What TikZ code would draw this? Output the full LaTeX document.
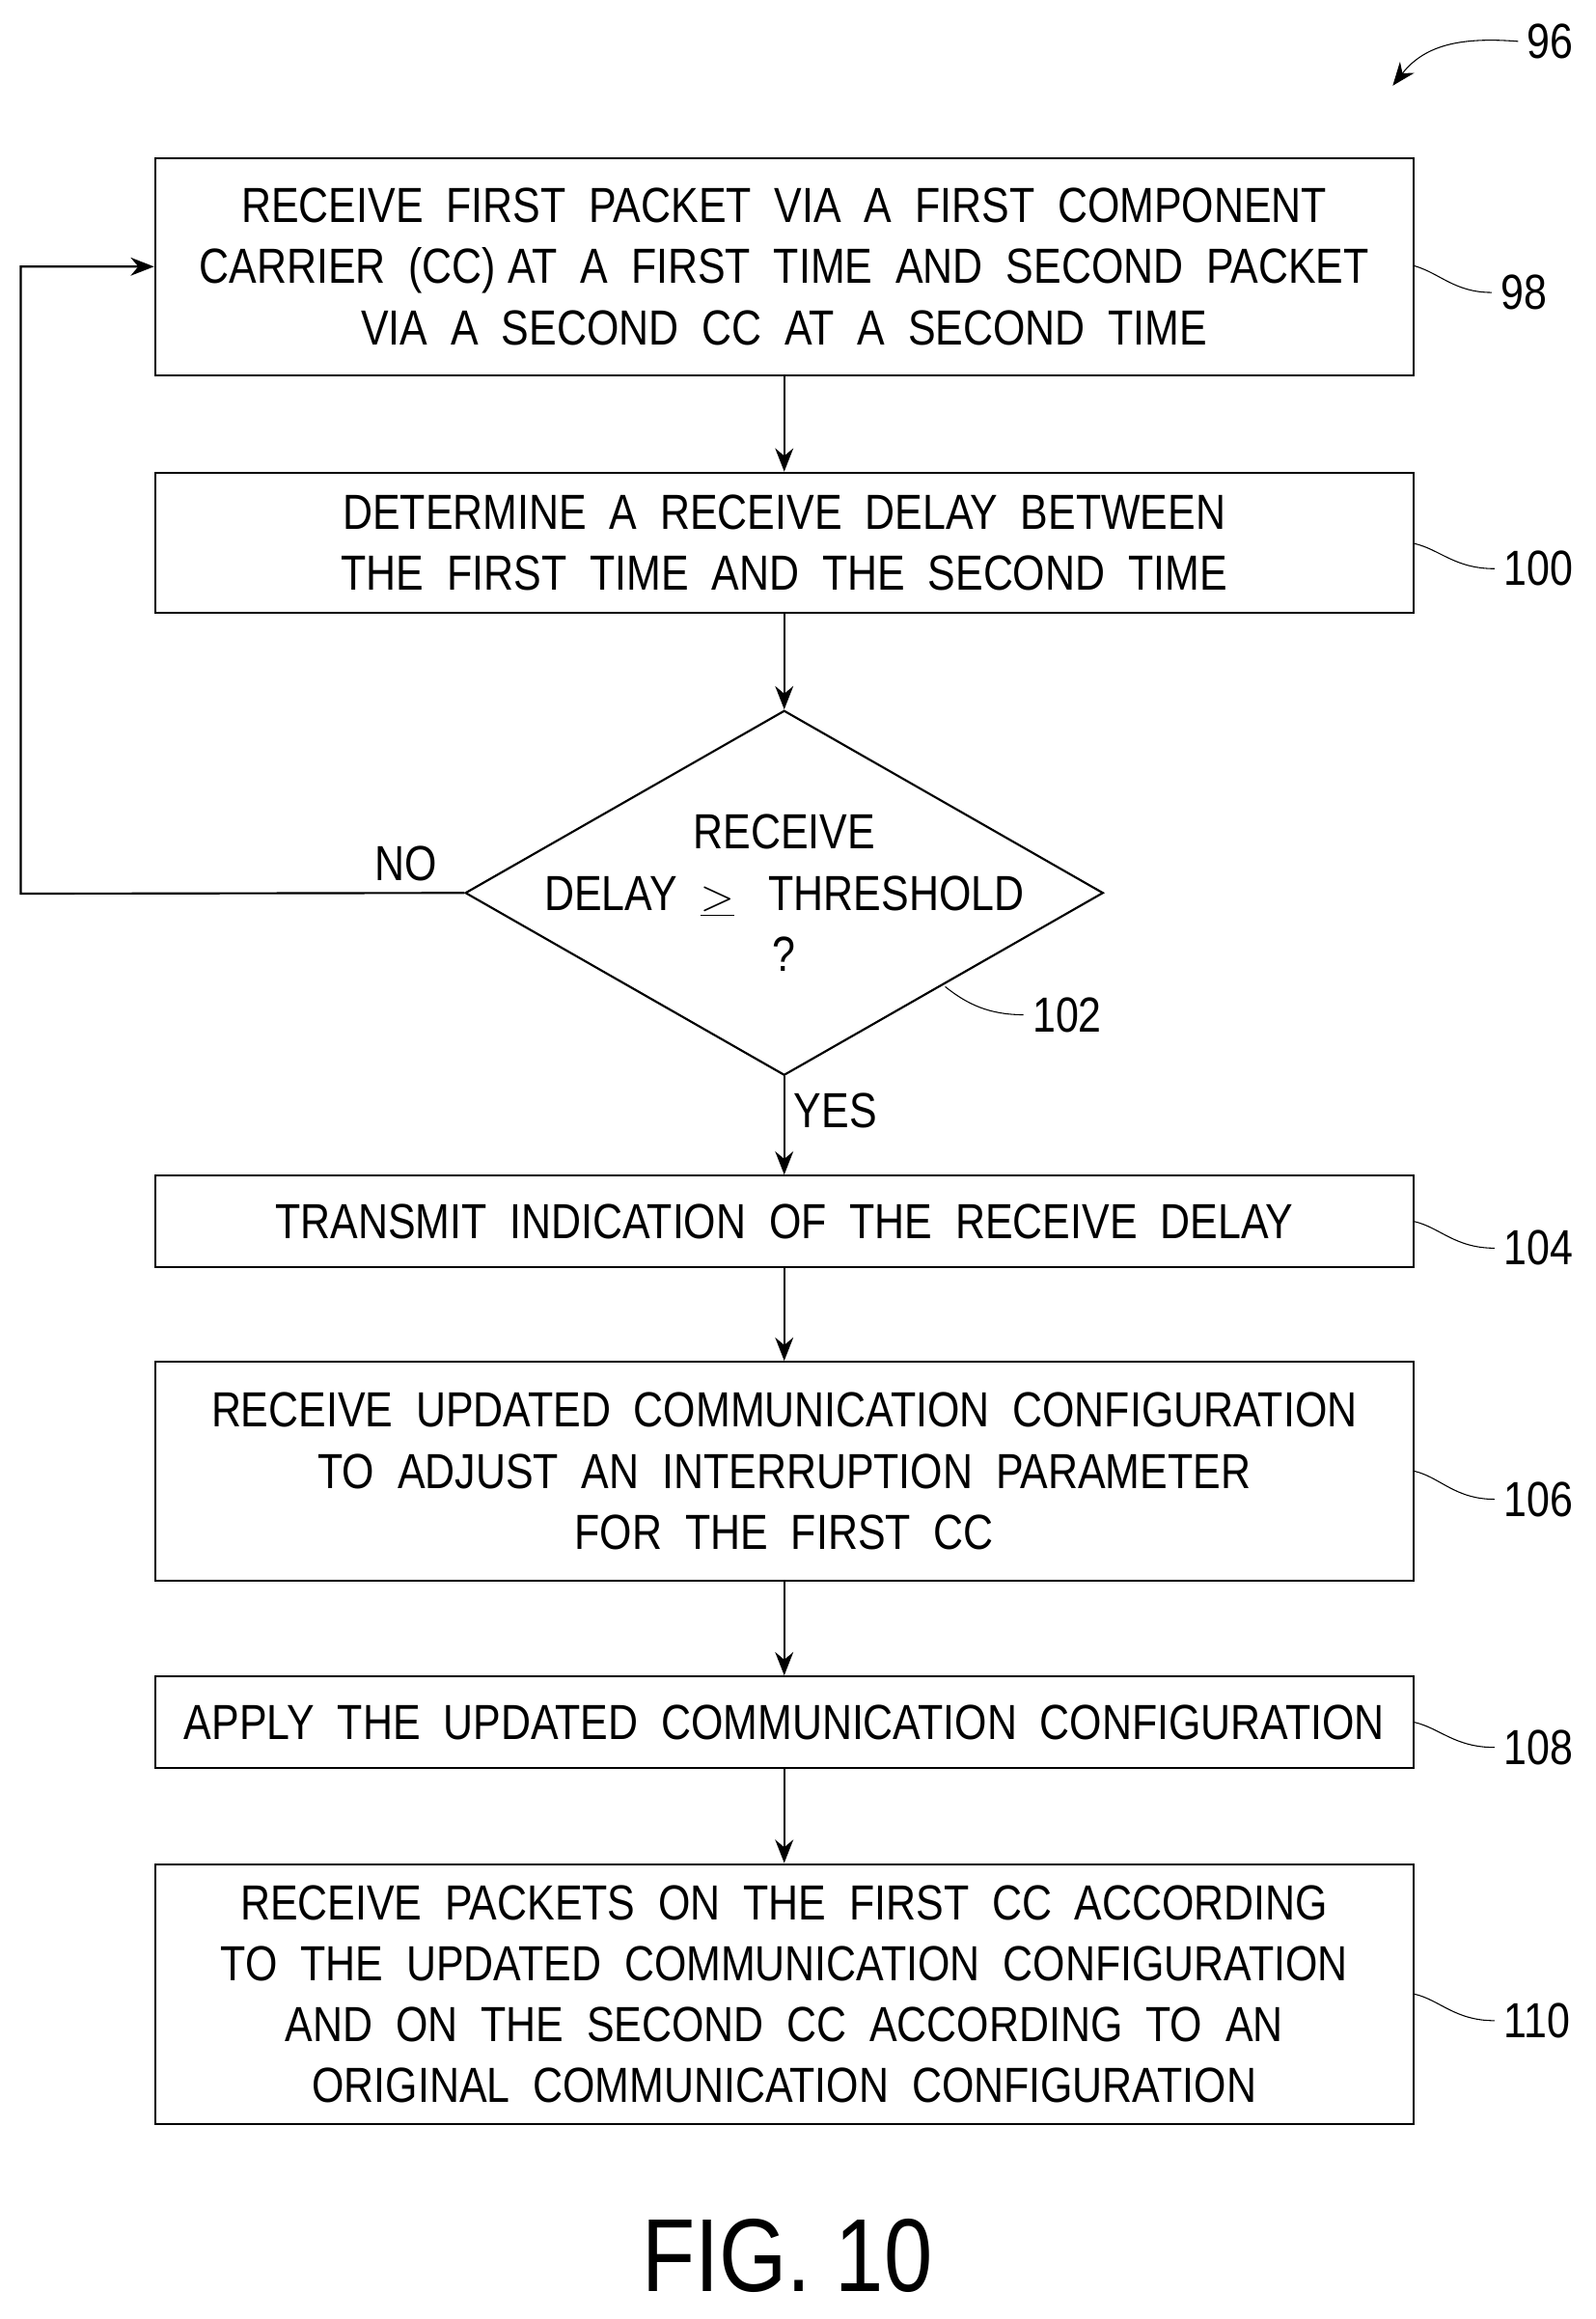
\documentclass[tikz,border=0pt]{standalone}
\usepackage{fontspec}
\setmainfont{Liberation Sans}[FakeStretch=0.84]
\usetikzlibrary{shapes.geometric,arrows.meta,positioning}
\begin{document}
\begin{tikzpicture}[x=0.02cm,y=-0.02cm,
    box/.style={draw, thick, minimum width=852*0.02cm, align=center, font=\fontsize{19}{23.5}\selectfont},
    flow/.style={-{Stealth[length=9pt,width=7pt]}, thick},
    lead/.style={thin},
    ref/.style={font=\fontsize{19}{22}\selectfont, anchor=west}]
        \useasboundingbox (0,0) rectangle (1080,1570);
        % process boxes
        \node[box, minimum height=147*0.02cm] (b98) at (531,180.5) {RECEIVE\ \ FIRST\ \ PACKET\ \ VIA\ \ A\ \ FIRST\ \ COMPONENT\\CARRIER\ \ (CC) AT\ \ A\ \ FIRST\ \ TIME\ \ AND\ \ SECOND\ \ PACKET\\VIA\ \ A\ \ SECOND\ \ CC\ \ AT\ \ A\ \ SECOND\ \ TIME};
        \node[box, minimum height=95*0.02cm] (b100) at (531,367.5) {DETERMINE\ \ A\ \ RECEIVE\ \ DELAY\ \ BETWEEN\\THE\ \ FIRST\ \ TIME\ \ AND\ \ THE\ \ SECOND\ \ TIME};
        \node[draw, thick, diamond, minimum width=432*0.02cm, minimum height=247*0.02cm, inner sep=0pt] (d102) at (531,604.5) {};
        \node[font=\fontsize{19}{23.5}\selectfont, align=center] (q102) at (d102.center) {RECEIVE\\DELAY\ \ $\underline{>}$\ \ \ THRESHOLD\\?};
        \node[box, minimum height=62*0.02cm] (b104) at (531,827) {TRANSMIT\ \ INDICATION\ \ OF\ \ THE\ \ RECEIVE\ \ DELAY};
        \node[box, minimum height=148*0.02cm] (b106) at (531,996) {RECEIVE\ \ UPDATED\ \ COMMUNICATION\ \ CONFIGURATION\\TO\ \ ADJUST\ \ AN\ \ INTERRUPTION\ \ PARAMETER\\FOR\ \ THE\ \ FIRST\ \ CC};
        \node[box, minimum height=62*0.02cm] (b108) at (531,1166) {APPLY\ \ THE\ \ UPDATED\ \ COMMUNICATION\ \ CONFIGURATION};
        \node[box, minimum height=176*0.02cm] (b110) at (531,1350) {RECEIVE\ \ PACKETS\ \ ON\ \ THE\ \ FIRST\ \ CC\ \ ACCORDING\\TO\ \ THE\ \ UPDATED\ \ COMMUNICATION\ \ CONFIGURATION\\AND\ \ ON\ \ THE\ \ SECOND\ \ CC\ \ ACCORDING\ \ TO\ \ AN\\ORIGINAL\ \ COMMUNICATION\ \ CONFIGURATION};

        % connectors
        \draw[flow] (b98) -- (b100);
        \draw[flow] (b100) -- (d102);
        \draw[flow] (d102) -- (b104) node[pos=0.35, right, font=\fontsize{19}{22}\selectfont] {YES};
        \draw[flow] (b104) -- (b106);
        \draw[flow] (b106) -- (b108);
        \draw[flow] (b108) -- (b110);
        \coordinate (loop) at (14,605);
        \draw[flow] (d102.west) -- (loop) |- (b98.west);
        \node[font=\fontsize{19}{22}\selectfont] (no) at (275,585) {NO};

        % reference numerals
        \node[ref] (r98) at (1010,198) {98};
        \draw[lead] (b98.east |- 0,180) .. controls (975,185) and (985,198) .. (r98.west);
        \node[ref] (r100) at (1012,385) {100};
        \draw[lead] (b100.east |- 0,368) .. controls (975,372) and (985,385) .. (r100.west);
        \node[ref] (r102) at (693,687) {102};
        \draw[lead] (640,668) .. controls (655,680) and (670,687) .. (r102.west);
        \node[ref] (r104) at (1012,845) {104};
        \draw[lead] (b104.east |- 0,827) .. controls (975,831) and (985,845) .. (r104.west);
        \node[ref] (r106) at (1012,1015) {106};
        \draw[lead] (b106.east |- 0,996) .. controls (975,1000) and (985,1015) .. (r106.west);
        \node[ref] (r108) at (1012,1183) {108};
        \draw[lead] (b108.east |- 0,1166) .. controls (975,1170) and (985,1183) .. (r108.west);
        \node[ref] (r110) at (1012,1368) {110};
        \draw[lead] (b110.east |- 0,1350) .. controls (975,1354) and (985,1368) .. (r110.west);
        \node[ref] (r96) at (1028,28) {96};
        \coordinate (tip96) at (943,58);
        \draw[-{Stealth[length=9pt,width=7pt]}, thin] (r96.west) .. controls (990,25) and (965,30) .. (tip96);

        % figure label
        \node[font=\fontsize{40}{46}\selectfont] (fig) at (533,1527) {FIG. 10};
\end{tikzpicture}
\end{document}
